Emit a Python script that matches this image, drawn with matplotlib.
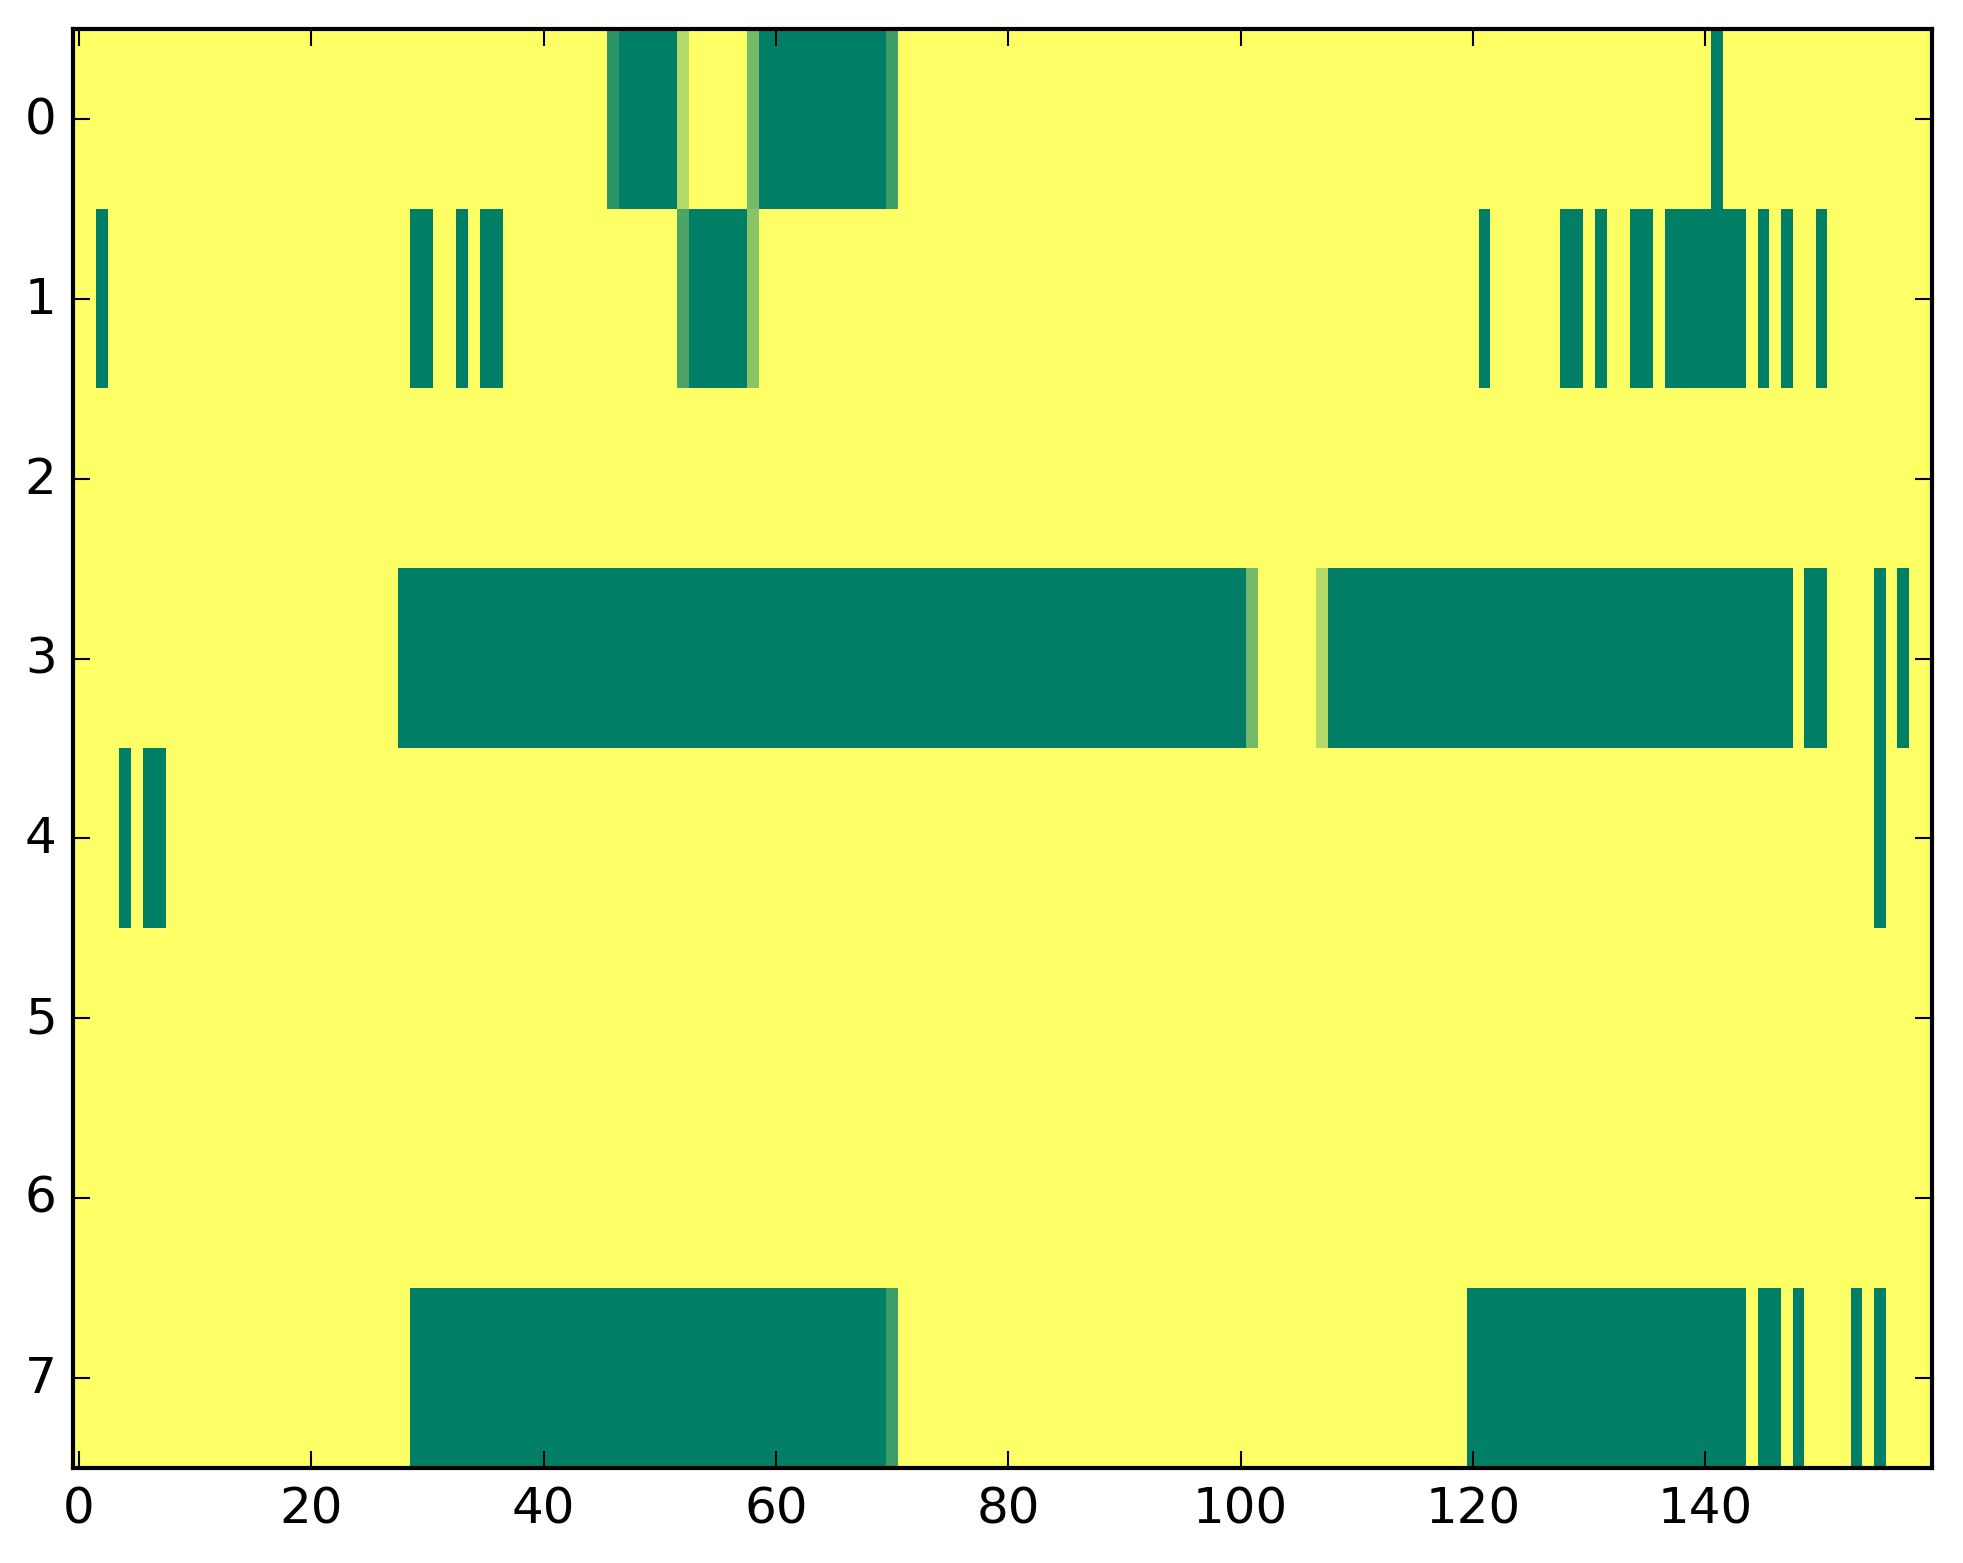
import numpy as np
import matplotlib
matplotlib.use("Agg")
import matplotlib.pyplot as plt

plt.style.use("classic")

n_rows = 8
n_cols = 160

# Runs of zero-valued (green) cells per row: (first_col, last_col)
row0_dark = [(47, 51), (59, 69), (141, 141)]
row1_dark = [(2, 2), (29, 30), (33, 33), (35, 36), (53, 57), (121, 121),
             (128, 129), (131, 131), (134, 135), (137, 143), (145, 145),
             (147, 147), (150, 150)]
row2_dark = []
row3_dark = [(28, 100), (108, 147), (149, 150), (155, 155), (157, 157)]
row4_dark = [(4, 4), (6, 7), (155, 155)]
row5_dark = []
row6_dark = []
row7_dark = [(29, 69), (120, 143), (145, 146), (148, 148), (153, 153), (155, 155)]

# Fractional cells per row: {col: value}
row0_partial = {46: 0.17, 52: 0.70, 58: 0.46, 70: 0.24}
row1_partial = {52: 0.30, 58: 0.54}
row3_partial = {101: 0.45, 107: 0.70}
row7_partial = {70: 0.23}

dark_runs = [row0_dark, row1_dark, row2_dark, row3_dark,
             row4_dark, row5_dark, row6_dark, row7_dark]
partials = {0: row0_partial, 1: row1_partial, 3: row3_partial, 7: row7_partial}

data = np.ones((n_rows, n_cols))
for r, runs in enumerate(dark_runs):
    for a, b in runs:
        data[r, a:b + 1] = 0.0
for r, cells in partials.items():
    for c, v in cells.items():
        data[r, c] = v

fig = plt.figure(figsize=(1963 / 300, 1564 / 300), dpi=300, facecolor="white")
ax = fig.add_axes([0.0373, 0.0610, 0.9468, 0.9196])
ax.imshow(data, cmap="summer", aspect="auto", interpolation="nearest",
          vmin=0, vmax=1)
ax.set_xticks([0, 20, 40, 60, 80, 100, 120, 140])
ax.set_yticks(range(8))
ax.set_xlim(-0.5, n_cols - 0.5)
ax.set_ylim(n_rows - 0.5, -0.5)

fig.savefig("out.png", dpi=300, facecolor="white")
